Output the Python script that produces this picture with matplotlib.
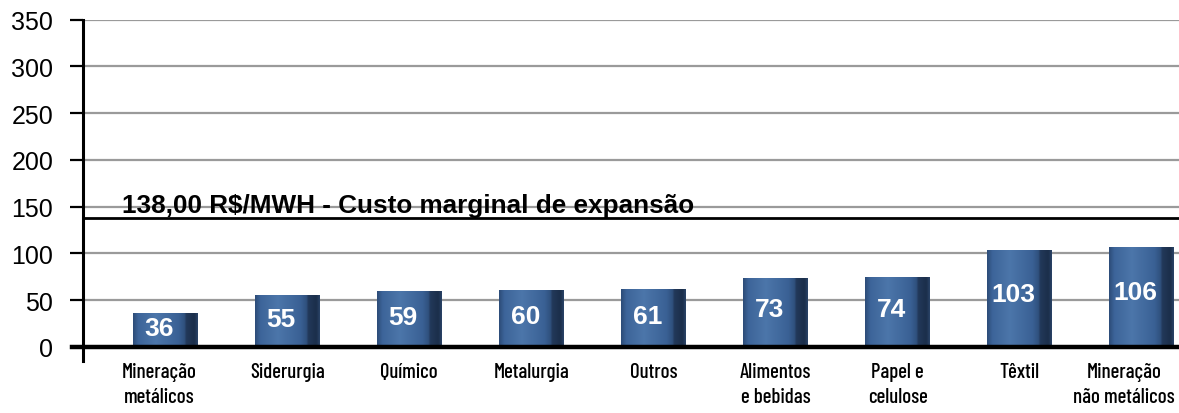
import numpy as np
import matplotlib
matplotlib.use("Agg")
import matplotlib.pyplot as plt
from matplotlib.colors import LinearSegmentedColormap
from matplotlib.transforms import ScaledTranslation

# Custo de energia por setor industrial (R$/MWh)
categories = ["Mineração\nmetálicos", "Siderurgia", "Químico", "Metalurgia", "Outros",
              "Alimentos\ne bebidas", "Papel e\ncelulose", "Têxtil", "Mineração\nnão metálicos"]
values = [36, 55, 59, 60, 61, 73, 74, 103, 106]
marginal_cost = 138
marginal_label = "138,00 R$/MWH - Custo marginal de expansão"
y_ticks = [0, 50, 100, 150, 200, 250, 300, 350]

W, H, DPI = 1179, 414, 100
fig = plt.figure(figsize=(W / DPI, H / DPI), dpi=DPI)
ax = fig.add_axes([83 / W, 1 - 348 / H, 1 - 83 / W, (348 - 20.7) / H])

x = np.arange(len(categories))
xmin, xmax = -0.672, 8.305
bar_w = 0.53

# horizontal shading for the bar faces: dark edge, light face, dark side
bar_cmap = LinearSegmentedColormap.from_list(
    "barshade",
    [(0.0, "#2c4c78"), (0.08, "#3d6499"), (0.35, "#4c76aa"), (0.70, "#3a6195"),
     (0.80, "#2f507d"), (0.82, "#22395a"), (0.95, "#1b2e4a"), (1.0, "#2a4468")])
grad = np.linspace(0, 1, 200).reshape(1, -1)

ax.bar(x, values, width=bar_w, color="none", edgecolor="none", zorder=3)
for xi, v in zip(x, values):
    ax.imshow(grad, cmap=bar_cmap, aspect="auto", interpolation="bicubic",
              extent=[xi - bar_w / 2, xi + bar_w / 2, 0, v], zorder=3)
    ax.text(xi - 0.05, v * 0.55, f"{v}", ha="center", va="center", color="white",
            fontsize=19, fontweight="bold", family="Liberation Sans", zorder=4)

ax.set_xlim(xmin, xmax)
ax.set_ylim(0, 350)

# grid
for t in y_ticks[1:]:
    ax.axhline(t, color="#9a9a9a", lw=1.6, zorder=1)

# marginal expansion cost line
ax.axhline(marginal_cost, color="black", lw=2, zorder=2)
ax.text(-0.35, marginal_cost + 1.5, marginal_label, ha="left", va="bottom",
        fontsize=18.8, fontweight="bold", family="Liberation Sans", zorder=5)

# axes lines
for s in ax.spines.values():
    s.set_visible(False)
ax.plot([xmin, xmin], [-15, 350], color="black", lw=2.2, clip_on=False, zorder=6)
ax.plot([-0.76, xmax], [0, 0], color="black", lw=3.2, clip_on=False, zorder=6)

ax.set_yticks(y_ticks)
ax.set_yticklabels([str(t) for t in y_ticks], fontsize=18, family="Liberation Sans")
ax.tick_params(axis="y", length=9.5, width=1.6, pad=12, color="black")

ax.set_xticks(x)
ax.set_xticklabels(categories, fontsize=15, family="Barlow Condensed", fontweight="medium",
                   linespacing=1.35)
ax.tick_params(axis="x", length=0, pad=11)

# keep the outer category labels inside the figure
shifts = {0: -6, len(categories) - 1: -18}
for i, lbl in enumerate(ax.get_xticklabels()):
    if i in shifts:
        lbl.set_transform(lbl.get_transform() + ScaledTranslation(shifts[i] / DPI, 0, fig.dpi_scale_trans))

fig.savefig("out.png", dpi=DPI)
